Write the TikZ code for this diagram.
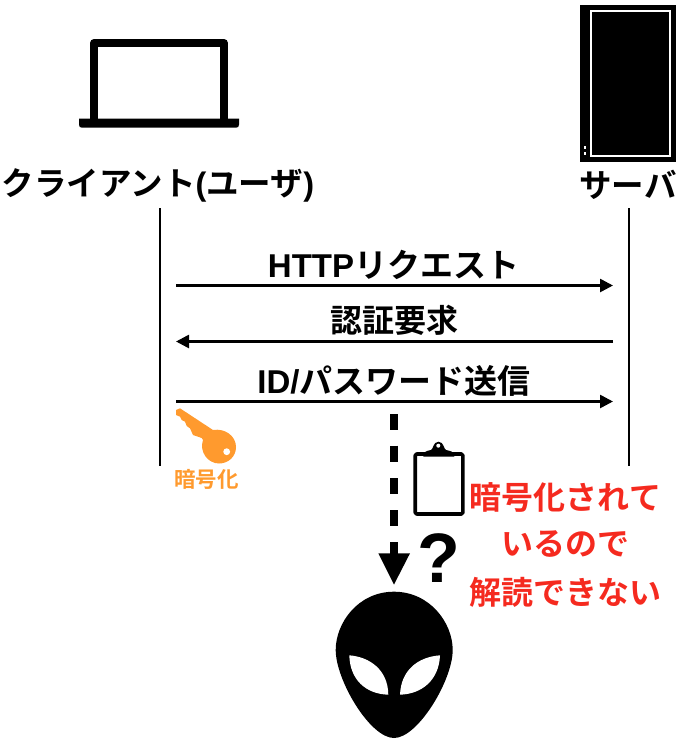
\documentclass[tikz,border=0pt]{standalone}
\usepackage{fontspec}
\setmainfont{Noto Sans CJK JP}[BoldFont={Noto Sans CJK JP Bold}]
\newfontfamily\latinbold{Liberation Sans}[Scale=1.0]
\usetikzlibrary{arrows.meta}
\definecolor{keyorange}{HTML}{FF9A2E}
\definecolor{msgred}{HTML}{F52A1F}
\tikzset{
  lbl/.style={inner sep=0pt,font=\fontsize{32.5}{38}\selectfont\bfseries,text=black},
  msg/.style={inner sep=0pt,font=\fontsize{33}{38}\selectfont\bfseries,text=black},
  lifeline/.style={line width=2.6pt,black},
  arrowline/.style={line width=2.6pt,black,-{Triangle[length=13pt,width=13pt]}},
  redtxt/.style={inner sep=0pt,font=\fontsize{32}{38}\selectfont\bfseries,text=msgred}
}
\begin{document}
\begin{tikzpicture}[x=1pt,y=-1pt]
\useasboundingbox (0,0) rectangle (680,744);
% laptop
\draw[line width=7.7pt,line join=round,fill=white] (93.85,122) -- (93.85,42.85) -- (223.85,42.85) -- (223.85,122);
\fill[black] (79,118.7) -- (239,118.7) -- (239,124.7) .. controls (239,126.7) and (238,127.7) .. (236,127.7) -- (82,127.7) .. controls (80,127.7) and (79,126.7) .. (79,124.7) -- cycle;
% server
\fill[black] (580,5) rectangle (675.7,162);
\draw[white,line width=2pt] (591,11) rectangle (670,156);
\fill[white] (583.7,146.4) rectangle (586.3,149);
\fill[white] (583.7,152) rectangle (586.3,154.6);
% labels
\node[lbl] (client) at (158,185) {クライアント{\latinbold\bfseries (}ユーザ{\latinbold\bfseries )}};
\node[lbl] (server) at (628,185) {サーバ};
% lifelines
\coordinate (cTop) at (160,208);
\coordinate (cBot) at (160,466);
\coordinate (sTop) at (629,208);
\coordinate (sBot) at (629,466);
\draw[lifeline] (cTop) -- (cBot);
\draw[lifeline] (sTop) -- (sBot);
% messages
\coordinate (a1) at (176,285.5); \coordinate (b1) at (613,285.5);
\coordinate (a2) at (176,341.5); \coordinate (b2) at (613,341.5);
\coordinate (a3) at (176,401.5); \coordinate (b3) at (613,401.5);
\draw[arrowline] (a1) -- (b1);
\draw[arrowline] (b2) -- (a2);
\draw[arrowline] (a3) -- (b3);
\node[msg] (m1) at (393.5,265) {{\latinbold\bfseries HTTP}リクエスト};
\node[msg,font=\fontsize{32}{38}\selectfont\bfseries] (m2) at (394.5,320) {認証要求};
\node[msg] (m3) at (394,381) {{\latinbold\bfseries ID/}パスワード送信};
% dashed arrow
\coordinate (dTop) at (394,414);
\coordinate (dBot) at (394,584);
\draw[line width=8pt] (394,414) -- (394,430);
\draw[line width=8pt] (394,445.7) -- (394,461.7);
\draw[line width=8pt] (394,478.3) -- (394,494);
\draw[line width=8pt] (394,510) -- (394,526);
\draw[line width=8pt] (394,542) -- (394,556);
\fill[black] (378.3,553.3) -- (410,553.3) -- (394,584.5) -- cycle;
% key
\fill[keyorange] (176,410) -- (180,408.3) -- (213,430)
  .. controls (225,428) and (236,436) .. (236,447)
  .. controls (236,457) and (228,463.5) .. (219,463.5)
  .. controls (208,463.5) and (199,452) .. (203,440)
  -- (201.7,438) -- (193,435) -- (190,428.3) -- (186.7,426) -- (185,421.7) -- (181.7,420) -- (180,416.7) -- (176,415) -- cycle;
\fill[white] (226.7,451.7) circle (3.4);
\node[inner sep=0pt,text=keyorange,font=\fontsize{21.5}{24}\selectfont\bfseries] (keytxt) at (206.5,479) {暗号化};
% clipboard
\draw[line width=3.6pt,line join=round,fill=white,rounded corners=1.5pt] (415.2,454) rectangle (462.9,514);
\fill[black] (423.3,456.7) .. controls (423.3,451) and (427,451) .. (431,450) .. controls (433,450) and (433,441.7) .. (438.5,441.7) .. controls (444,441.7) and (444,450) .. (446,450) .. controls (450,451) and (454.3,451) .. (454.3,456.7) -- cycle;
\fill[white] (438.3,445.7) circle (2);
% question
\node[inner sep=0pt,font=\fontsize{70}{72}\selectfont\bfseries] (q) at (438.7,558) {\latinbold\bfseries ?};
% red text
\node[redtxt] (r1) at (565.5,497) {暗号化されて};
\node[redtxt] (r2) at (565.5,544) {いるので};
\node[redtxt] (r3) at (565.5,592) {解読できない};
% alien
\fill[black] (394,591.7) .. controls (430,591.7) and (452.7,623) .. (452.7,650)
  .. controls (452.7,680) and (418,738) .. (394,738)
  .. controls (370,738) and (335.7,680) .. (335.7,650)
  .. controls (335.7,623) and (358,591.7) .. (394,591.7) -- cycle;
\fill[white] (349.3,655.3) .. controls (370,657) and (388,670) .. (388.3,694.7)
  .. controls (366,694) and (350,680) .. (349.3,655.3) -- cycle;
\fill[white] (440,655.3) .. controls (418,657) and (401,670) .. (400,694.7)
  .. controls (422,694) and (439,680) .. (440,655.3) -- cycle;
\end{tikzpicture}
\end{document}
